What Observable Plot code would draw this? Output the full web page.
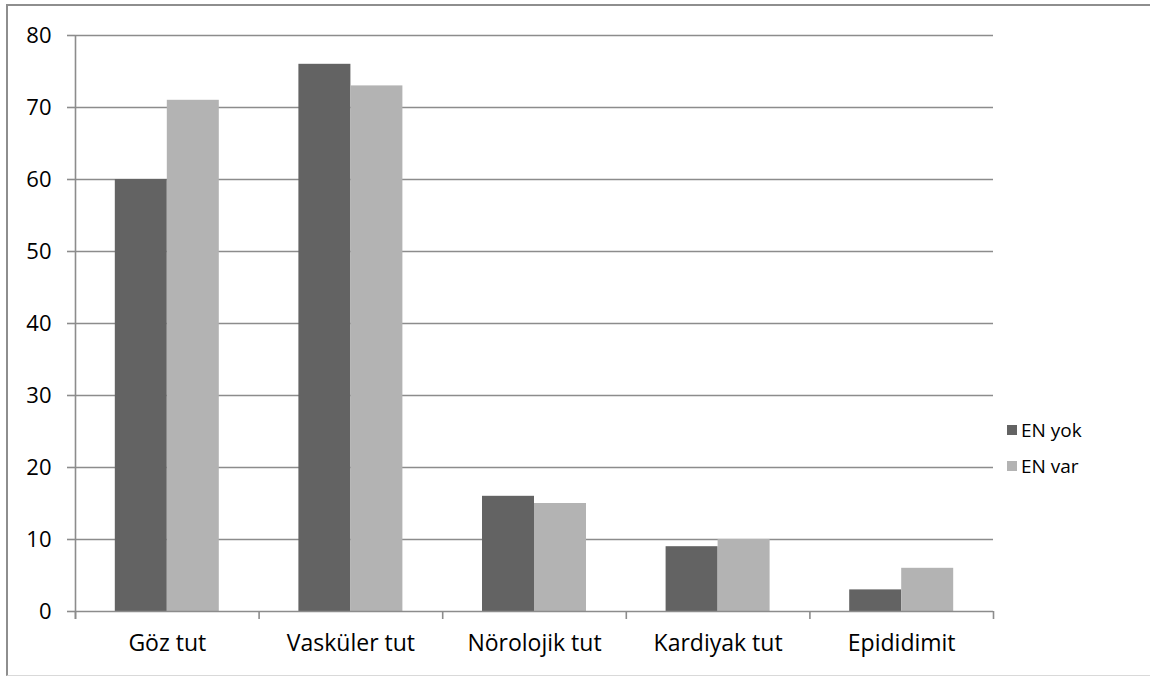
<!DOCTYPE html>
<html>
<head>
<meta charset="utf-8">
<script src="https://cdn.jsdelivr.net/npm/d3@7"></script>
<script src="https://cdn.jsdelivr.net/npm/@observablehq/plot@0.6"></script>
<style>
  body { margin: 0; background: #fff; font-family: "Open Sans", sans-serif; }
  #wrap { position: relative; width: 1150px; height: 677px; overflow: hidden; }
  #chart { position: absolute; left: 0; top: 0; }
  #frame { position: absolute; left: 6px; top: 4px; width: 1200px; height: 672px;
           border-top: 2px solid #8e8e8e; border-left: 2px solid #8e8e8e; border-bottom: 1px solid #d9d9d9; box-sizing: border-box; pointer-events: none; }
  #legend { position: absolute; left: 1007px; top: 412px; font-size: 19px; color: #000; }
  .item { display: flex; align-items: center; height: 36px; }
  .sw { width: 10px; height: 10px; margin-right: 4px; }
</style>
</head>
<body>
<div id="wrap">
  <div id="frame"></div>
  <div id="chart"></div>
  <div id="legend"></div>
</div>
<script>
const categories = ["Göz tut", "Vasküler tut", "Nörolojik tut", "Kardiyak tut", "Epididimit"];
const seriesNames = ["EN yok", "EN var"];
const enYok = [60, 76, 16, 9, 3];
const enVar = [71, 73, 15, 10, 6];
const yTicks = [0, 10, 20, 30, 40, 50, 60, 70, 80];
const colors = ["#636363", "#b3b3b3"];

const dataYok = categories.map((c, i) => ({cat: c, value: enYok[i], series: seriesNames[0]}));
const dataVar = categories.map((c, i) => ({cat: c, value: enVar[i], series: seriesNames[1]}));

const W = 1150, H = 677, mL = 75, mR = 157, mT = 35, mB = 66;
const step = (W - mL - mR) / categories.length;
const barW = 52;
const gap = step / 2 - barW;
const gridColor = "#8c8c8c";

const chart = Plot.plot({
  width: W,
  height: H,
  marginLeft: mL,
  marginRight: mR,
  marginTop: mT,
  marginBottom: mB,
  style: {fontFamily: "'Open Sans', sans-serif", fontSize: "22px", color: "#000", background: "transparent"},
  x: {domain: categories, padding: 0, round: false, label: null},
  y: {domain: [0, 80], label: null},
  marks: [
    Plot.ruleY(yTicks.slice(1), {stroke: gridColor, strokeWidth: 1.6}),
    Plot.barY(dataYok, {x: "cat", y: "value", fill: colors[0], insetLeft: gap, insetRight: step / 2}),
    Plot.barY(dataVar, {x: "cat", y: "value", fill: colors[1], insetLeft: step / 2, insetRight: gap}),
    Plot.ruleY([0], {stroke: gridColor, strokeWidth: 1.6}),
    Plot.ruleX(categories, {x: d => d, dx: -step / 2, y1: 0, y2: 0, insetBottom: -8, stroke: gridColor, strokeWidth: 1.6}),
    Plot.ruleX(categories.slice(-1), {x: d => d, dx: step / 2, y1: 0, y2: 0, insetBottom: -8, stroke: gridColor, strokeWidth: 1.6}),
    Plot.ruleX(categories.slice(0, 1), {x: d => d, dx: -step / 2, y1: 80, y2: 0, insetBottom: -8, stroke: gridColor, strokeWidth: 1.6}),
    Plot.axisY({ticks: yTicks, tickSize: 8, tickPadding: 16, stroke: gridColor, strokeWidth: 1.6, fontSize: 22, tickFormat: d => d}),
    Plot.axisX({tickSize: 0, tickPadding: 23, fontSize: 23})
  ]
});
document.getElementById("chart").appendChild(chart);

const legend = document.getElementById("legend");
seriesNames.forEach((s, i) => {
  const it = document.createElement("div");
  it.className = "item";
  it.innerHTML = `<span class="sw" style="background:${colors[i]}"></span><span>${s}</span>`;
  legend.appendChild(it);
});
</script>
</body>
</html>
